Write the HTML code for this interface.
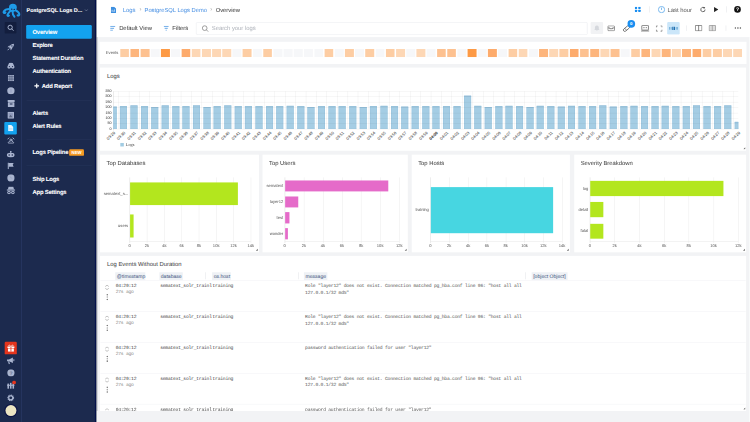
<!DOCTYPE html>
<html><head><meta charset="utf-8"><style>
html,body{margin:0;padding:0;width:750px;height:422px;overflow:hidden;background:#f2f3f5}
#root{opacity:0.999;-webkit-text-stroke:0.12px;text-rendering:geometricPrecision;position:absolute;left:0;top:0;width:1920px;height:1082px;transform:scale(0.390625);transform-origin:0 0;font-family:"Liberation Sans",sans-serif;overflow:hidden;color:#333}
.a{position:absolute}
.nav{position:absolute;left:83px;color:#fff;font-weight:bold;font-size:15px;letter-spacing:-0.45px;line-height:20px;white-space:nowrap;-webkit-text-stroke:0.2px #fff}
.panel{position:absolute;background:#fff;box-sizing:border-box}
.ptitle{position:absolute;font-size:15px;color:#4a4a4a;line-height:18px;white-space:nowrap}
.lbl{position:absolute;font-size:10px;color:#666;white-space:nowrap;line-height:12px;-webkit-text-stroke:0.1px}
.ser{font-family:"Liberation Serif",serif}
.mono{font-family:"Liberation Mono",monospace;letter-spacing:-0.6px;-webkit-text-stroke:0}
.chip{position:absolute;background:#eef1f5;color:#334;font-size:13px;line-height:20px;height:20px;padding:0 4px;white-space:nowrap}
.sep{position:absolute;width:1px;background:#d8dbe0}
</style></head>
<body><div id="root">
<div class="a" style="left:0;top:0;width:246px;height:1082px;background:#1c2a4e"></div>
<div class="a" style="left:53.5px;top:0;width:1.5px;height:1082px;background:#34467a"></div>
<div class="a" style="left:243px;top:0;width:3px;height:1082px;background:#03104a"></div>
<div class="a" style="left:246px;top:0;width:2.5px;height:1082px;background:#7d8291"></div>
<div class="a" style="left:248px;top:0;width:1672px;height:95px;background:#fff"></div>
<svg class="a" style="left:0px;top:0px" width="56" height="50" viewBox="0 0 56 50"><g fill="none" stroke="#1e9be8" stroke-width="5" stroke-linecap="round" stroke-linejoin="round"><path d="M24 23 C18 23 12 25 9.5 29.5 C8 33 11 35 14 32"/><path d="M27 27 C24 31 21 34 19 38 C18.5 41 21 42 23 40"/><path d="M32 29 C32 34 33 39 37 43"/><path d="M39 26 C45 29 49 32 49.5 36 C50 39 47 41 45 39"/></g><ellipse cx="33" cy="19" rx="10" ry="9.5" fill="#1e9be8"/><ellipse cx="32" cy="25" rx="8.5" ry="5.5" fill="#1e9be8"/><ellipse cx="30" cy="23.5" rx="2" ry="1.5" fill="#1c2a4e"/><ellipse cx="36.5" cy="24" rx="2" ry="1.5" fill="#1c2a4e"/></svg>
<div class="a" style="left:12px;top:56px;width:30px;height:30px;background:#131e3e;border-radius:2px"></div>
<svg class="a" style="left:17px;top:61px" width="20" height="20" viewBox="0 0 20 20"><circle cx="9" cy="9" r="5.5" fill="none" stroke="#a9b4cf" stroke-width="2.5"/><path d="M13 13 L17 17" stroke="#a9b4cf" stroke-width="2.5" stroke-linecap="round"/></svg>
<svg class="a" style="left:18px;top:111px" width="20" height="19" viewBox="0 0 20 19"><path d="M18 1 C12 1 7 5 5 10 L9 14 C14 12 18 7 18 1Z" fill="#a9b4cf"/><path d="M5 10 L1 10 L5 6 L9 6Z M9 14 L9 18 L13 14 L13 10Z" fill="#a9b4cf"/><path d="M5 14 L2 17" stroke="#a9b4cf" stroke-width="2.5" stroke-linecap="round"/><circle cx="12.5" cy="6.5" r="1.8" fill="#1c2a4e"/></svg>
<svg class="a" style="left:18px;top:160px" width="20" height="16" viewBox="0 0 20 16"><path d="M1 10 L5 2 C6 0 14 0 15 2 L19 10 C20 14 17 16 14 16 C11 16 11 13 10 13 C9 13 9 16 6 16 C3 16 0 14 1 10Z" fill="#a9b4cf"/><circle cx="6" cy="10.5" r="1.6" fill="#1c2a4e"/><circle cx="14" cy="10.5" r="1.6" fill="#1c2a4e"/></svg>
<svg class="a" style="left:20px;top:192px" width="16" height="16" viewBox="0 0 16 16"><rect x="0" y="0" width="16" height="16" rx="1" fill="#a9b4cf"/><path d="M0 4H16M0 8H16M0 12H16M5.3 0V16M10.6 0V16" stroke="#1c2a4e" stroke-width="1"/></svg>
<svg class="a" style="left:18px;top:223px" width="20" height="19" viewBox="0 0 20 19"><ellipse cx="10" cy="9.5" rx="9.5" ry="9" fill="#a9b4cf"/><path d="M10 5 V14" stroke="#8f9abb" stroke-width="2"/></svg>
<svg class="a" style="left:19px;top:256px" width="19" height="18" viewBox="0 0 19 18"><rect x="0" y="0" width="19" height="5" rx="1" fill="#a9b4cf"/><rect x="1" y="6" width="17" height="12" rx="1" fill="#a9b4cf"/><rect x="6" y="9" width="7" height="2.5" fill="#1c2a4e"/></svg>
<svg class="a" style="left:19px;top:286px" width="17" height="18" viewBox="0 0 17 18"><rect x="0" y="0" width="17" height="18" rx="2" fill="#a9b4cf"/><rect x="3" y="3" width="11" height="12" fill="#8f9abb"/><path d="M4 14 L8 8 L13 14Z" fill="#5a6680"/></svg>
<div class="a" style="left:11px;top:312px;width:32px;height:32px;background:#13a2ef;border-radius:3px"></div>
<svg class="a" style="left:20px;top:320px" width="15" height="16" viewBox="0 0 15 16"><path d="M1 0 H9 L14 5 V16 H1Z" fill="#eaf6fe"/><path d="M3 9H12M3 12H12" stroke="#9bd3f6" stroke-width="1.2"/></svg>
<svg class="a" style="left:18px;top:351px" width="20" height="17" viewBox="0 0 20 17"><g fill="none" stroke="#a9b4cf" stroke-width="2.4" stroke-linecap="round"><path d="M2 5 L5 2 M18 5 L15 2 M7 10 L3 14 M13 10 L17 14 M4 15.5 H16"/><circle cx="10" cy="7.5" r="2.6"/></g></svg>
<svg class="a" style="left:17px;top:386px" width="21" height="17" viewBox="0 0 21 17"><ellipse cx="10.5" cy="11" rx="10" ry="6" fill="#a9b4cf"/><path d="M10.5 1 V6" stroke="#a9b4cf" stroke-width="2.5"/><circle cx="10.5" cy="2" r="2" fill="#a9b4cf"/><circle cx="6.5" cy="11" r="2" fill="#1c2a4e"/><circle cx="14.5" cy="11" r="2" fill="#1c2a4e"/></svg>
<svg class="a" style="left:19px;top:416px" width="17" height="17" viewBox="0 0 17 17"><path d="M2 0 V17" stroke="#a9b4cf" stroke-width="3"/><path d="M3 1 H16 L13.5 6 L16 11 H3Z" fill="#a9b4cf"/></svg>
<svg class="a" style="left:18px;top:446px" width="20" height="19" viewBox="0 0 20 19"><circle cx="10" cy="9.5" r="9.3" fill="#a9b4cf"/><path d="M8 6 L12 11" stroke="#8f9abb" stroke-width="2"/></svg>
<svg class="a" style="left:17px;top:477px" width="22" height="21" viewBox="0 0 22 21"><path d="M5 1 H17 L19 8 H3Z" fill="#a9b4cf"/><rect x="0" y="8" width="22" height="3" fill="#a9b4cf"/><circle cx="6" cy="16" r="4.5" fill="#a9b4cf"/><circle cx="16" cy="16" r="4.5" fill="#a9b4cf"/><circle cx="6" cy="16" r="2" fill="#1c2a4e"/><circle cx="16" cy="16" r="2" fill="#1c2a4e"/></svg>
<div class="a" style="left:12px;top:875px;width:31px;height:32px;background:#e4351d;border-radius:3px"></div>
<svg class="a" style="left:18px;top:881px" width="20" height="20" viewBox="0 0 20 20"><rect x="1" y="6" width="18" height="4" fill="#fff"/><rect x="2.5" y="11" width="15" height="8" fill="#fff"/><path d="M10 6V19" stroke="#e4351d" stroke-width="2.2"/><path d="M10 6 C7 1 3 2 5 5 M10 6 C13 1 17 2 15 5" fill="none" stroke="#fff" stroke-width="2"/></svg>
<svg class="a" style="left:17px;top:914px" width="21" height="19" viewBox="0 0 21 19"><path d="M1 6 H6 L16 1 V15 L6 11 H1Z" fill="#a9b4cf"/><path d="M5 11 L7 18" stroke="#a9b4cf" stroke-width="3"/><path d="M18.5 5.5 V10.5" stroke="#a9b4cf" stroke-width="2.5"/></svg>
<svg class="a" style="left:18px;top:945px" width="20" height="19" viewBox="0 0 20 19"><circle cx="10" cy="9.5" r="9.3" fill="#a9b4cf"/><text x="10" y="14" font-size="13" font-weight="bold" text-anchor="middle" fill="#6b7794" font-family="Liberation Sans">?</text></svg>
<svg class="a" style="left:18px;top:974px" width="24" height="22" viewBox="0 0 24 22"><g fill="#a9b4cf"><rect x="1" y="8" width="4" height="13"/><rect x="7.5" y="6" width="4" height="15"/><rect x="14" y="8" width="4" height="13"/><rect x="0" y="11" width="19" height="2.5"/></g><circle cx="18" cy="5" r="4.8" fill="#e4351d"/></svg>
<svg class="a" style="left:18px;top:1009px" width="19" height="19" viewBox="0 0 19 19"><circle cx="9.5" cy="9.5" r="7" fill="none" stroke="#a9b4cf" stroke-width="3.5" stroke-dasharray="2.5 1.6"/><circle cx="9.5" cy="9.5" r="5.2" fill="none" stroke="#a9b4cf" stroke-width="3"/></svg>
<div class="a" style="left:11px;top:1034px;width:34px;height:34px;border-radius:50%;background:#0b1445"></div>
<div class="a" style="left:14px;top:1037px;width:28px;height:28px;border-radius:50%;background:#ebe5c2"></div>
<div class="nav" style="left:68px;top:16px;font-size:14.2px;letter-spacing:-0.15px;line-height:20px">PostgreSQL Logs D...</div>
<svg class="a" style="left:216px;top:22px" width="10" height="8" viewBox="0 0 10 8"><path d="M1 2 L5 6 L9 2" fill="none" stroke="#8e99b3" stroke-width="1.5"/></svg>
<div class="a" style="left:67px;top:64px;width:168px;height:35px;background:#13a2ef;border-radius:3px"></div>
<div class="nav" style="top:71.5px">Overview</div>
<div class="nav" style="top:105.5px">Explore</div>
<div class="nav" style="top:139px">Statement Duration</div>
<div class="nav" style="top:173px">Authentication</div>
<svg class="a" style="left:87px;top:213px" width="14" height="14" viewBox="0 0 14 14"><path d="M7 1V13M1 7H13" stroke="#fff" stroke-width="3"/></svg>
<div class="nav" style="left:107px;top:210px">Add Report</div>
<div class="a" style="left:68px;top:257px;width:167px;height:1px;background:#2a3a60"></div>
<div class="a" style="left:68px;top:357px;width:167px;height:1px;background:#2a3a60"></div>
<div class="a" style="left:68px;top:424px;width:167px;height:1px;background:#2a3a60"></div>
<div class="nav" style="top:279.5px">Alerts</div>
<div class="nav" style="top:313px">Alert Rules</div>
<div class="nav" style="top:379.5px">Logs Pipeline</div>
<div class="nav" style="top:449px">Ship Logs</div>
<div class="nav" style="top:483px">App Settings</div>
<div class="a" style="left:177px;top:382px;width:38px;height:17px;background:#f59a23;border-radius:3px;color:#fff;font-weight:bold;font-size:11px;line-height:17px;text-align:center">NEW</div>
<svg class="a" style="left:283px;top:17px" width="15" height="16" viewBox="0 0 15 16"><path d="M1 0 H9 L14 5 V16 H1Z" fill="#3d8fe0"/><path d="M4 8 V13 M7 10 V13 M10 7 V13" stroke="#fff" stroke-width="1.5"/></svg>
<div class="a" style="left:314px;top:16.5px;font-size:15px;line-height:20px;color:#5597e4;white-space:nowrap">Logs</div>
<div class="a" style="left:357px;top:14.5px;font-size:15px;line-height:20px;color:#aaa">&#8250;</div>
<div class="a" style="left:370px;top:16.5px;font-size:14.8px;line-height:20px;color:#5597e4;white-space:nowrap">PostgreSQL Logs Demo</div>
<div class="a" style="left:538px;top:14.5px;font-size:15px;line-height:20px;color:#aaa">&#8250;</div>
<div class="a" style="left:552px;top:16.5px;font-size:15px;line-height:20px;color:#444;white-space:nowrap">Overview</div>
<svg class="a" style="left:282px;top:66px" width="14" height="13" viewBox="0 0 14 13"><path d="M0 1.5H13M0 6.5H10M0 11.5H7" stroke="#3d8fe0" stroke-width="2"/></svg>
<div class="a" style="left:305px;top:62px;font-size:15px;line-height:20px;color:#444;white-space:nowrap">Default View</div>
<svg class="a" style="left:419px;top:66px" width="13" height="13" viewBox="0 0 13 13"><path d="M0 1.5H13M2.5 6.5H10.5M5 11.5H8" stroke="#3d8fe0" stroke-width="2"/></svg>
<div class="a" style="left:441px;top:62px;font-size:15px;line-height:20px;color:#444;white-space:nowrap">Filters</div>
<div class="a" style="left:502px;top:57px;width:1002px;height:32px;border:1px solid #e0e3e8;border-radius:3px;box-sizing:border-box;background:#fff"></div>
<svg class="a" style="left:516px;top:64px" width="19" height="19" viewBox="0 0 19 19"><circle cx="8" cy="8" r="6" fill="none" stroke="#777" stroke-width="1.8"/><path d="M12.5 12.5 L17 17" stroke="#777" stroke-width="1.8"/></svg>
<div class="a" style="left:542px;top:64px;font-size:15px;line-height:20px;color:#b4b8bf;white-space:nowrap">Search your logs</div>
<div class="a" style="left:1512px;top:56px;width:32px;height:31px;background:#f1f2f4;border-radius:3px"></div>
<svg class="a" style="left:1519px;top:63px" width="18" height="18" viewBox="0 0 18 18"><path d="M9 2 C5 2 4 5 4 8 V12 L2 14 H16 L14 12 V8 C14 5 13 2 9 2Z M7 15 C7 17 11 17 11 15" fill="#d5d8dd"/></svg>
<svg class="a" style="left:1555px;top:65px" width="19" height="15" viewBox="0 0 19 15"><rect x="1" y="1" width="17" height="13" rx="2" fill="none" stroke="#555" stroke-width="1.8"/><path d="M1 6.5 H6 V8.5 H13 V6.5 H18" fill="none" stroke="#555" stroke-width="1.8"/></svg>
<svg class="a" style="left:1593px;top:63px" width="22" height="20" viewBox="0 0 22 20"><g transform="rotate(-40 11 10)"><rect x="1.5" y="6.5" width="19" height="7" rx="3.5" fill="#fff" stroke="#555" stroke-width="1.9"/><path d="M8 6.5 V13.5" stroke="#555" stroke-width="1.6"/></g></svg>
<div class="a" style="left:1606px;top:51px;width:20px;height:20px;border-radius:50%;background:#1a8ef0;color:#fff;font-size:11px;font-weight:bold;line-height:20px;text-align:center">0</div>
<svg class="a" style="left:1640px;top:64px" width="23" height="17" viewBox="0 0 23 17"><rect x="3" y="1" width="17" height="12" rx="1.5" fill="none" stroke="#555" stroke-width="1.8"/><path d="M1 15.5H22" stroke="#555" stroke-width="2"/><rect x="7" y="6" width="3" height="2" fill="#555"/><rect x="13" y="6" width="3" height="2" fill="#555"/></svg>
<svg class="a" style="left:1679px;top:65px" width="17" height="16" viewBox="0 0 17 16"><path d="M1 5 V1 H5 M12 1 H16 V5 M16 11 V15 H12 M5 15 H1 V11" fill="none" stroke="#555" stroke-width="1.8"/></svg>
<div class="a" style="left:1708px;top:56px;width:32px;height:32px;background:#cbe6f9;border-radius:3px"></div>
<svg class="a" style="left:1713px;top:68px" width="23" height="9" viewBox="0 0 23 9"><g fill="#5a9fd0"><rect x="0" y="1" width="2" height="7"/><rect x="4" y="1" width="2" height="7"/><rect x="8" y="0" width="3" height="9" fill="#1f6fb0"/><rect x="12" y="0" width="3" height="9" fill="#1f6fb0"/><rect x="17" y="1" width="2" height="7"/><rect x="21" y="1" width="2" height="7"/></g></svg>
<div class="sep" style="left:1757px;top:65px;height:14px"></div>
<svg class="a" style="left:1779px;top:64px" width="19" height="16" viewBox="0 0 19 16"><rect x="1" y="1" width="17" height="14" rx="1.5" fill="none" stroke="#555" stroke-width="1.8"/><path d="M9.5 1 V15" stroke="#555" stroke-width="1.8"/></svg>
<svg class="a" style="left:1814px;top:64px" width="19" height="16" viewBox="0 0 19 16"><rect x="1" y="1" width="17" height="14" rx="1.5" fill="#ddd" stroke="#888" stroke-width="1.8"/><path d="M9.5 1 V15" stroke="#888" stroke-width="1.5"/></svg>
<div class="sep" style="left:1858px;top:65px;height:14px"></div>
<svg class="a" style="left:1880px;top:69px" width="18" height="5" viewBox="0 0 18 5"><circle cx="2.5" cy="2.5" r="2" fill="#555"/><circle cx="9" cy="2.5" r="2" fill="#555"/><circle cx="15.5" cy="2.5" r="2" fill="#555"/></svg>
<svg class="a" style="left:1625px;top:17px" width="16" height="15" viewBox="0 0 16 15"><g fill="#1a8ef0"><rect x="0" y="0" width="6" height="6" rx="1"/><rect x="9" y="0" width="6" height="6" rx="1"/><rect x="0" y="8" width="6" height="6" rx="1"/><rect x="9" y="8" width="6" height="6" rx="1"/></g></svg>
<div class="sep" style="left:1662px;top:16px;height:16px"></div>
<svg class="a" style="left:1684px;top:15px" width="19" height="19" viewBox="0 0 19 19"><circle cx="9.5" cy="9.5" r="8" fill="none" stroke="#4a9fe8" stroke-width="1.8"/><path d="M9.5 4.5 V10.5" stroke="#4a9fe8" stroke-width="1.8"/></svg>
<div class="a" style="left:1709px;top:15.5px;font-size:15px;line-height:20px;color:#666;white-space:nowrap">Last hour</div>
<svg class="a" style="left:1791px;top:16px" width="17" height="17" viewBox="0 0 17 17"><path d="M14 8.5 A5.5 5.5 0 1 1 11.5 3.8" fill="none" stroke="#444" stroke-width="2"/><path d="M9.5 1 L14.5 3 L11 7Z" fill="#444"/></svg>
<svg class="a" style="left:1827px;top:18px" width="12" height="13" viewBox="0 0 12 13"><path d="M1 0 L12 6.5 L1 13Z" fill="#222"/></svg>
<div class="sep" style="left:1859px;top:16px;height:16px"></div>
<svg class="a" style="left:1879px;top:15px" width="18" height="18" viewBox="0 0 18 18"><circle cx="9" cy="9" r="8.5" fill="#111"/><text x="9" y="13.5" font-size="13" font-weight="bold" text-anchor="middle" fill="#fff" font-family="Liberation Sans">?</text></svg>
<div class="panel" style="left:255px;top:107px;width:1656px;height:57px"></div>
<div class="lbl" style="left:271px;top:130px;font-size:10.5px;color:#666">Events</div>
<div class="a" style="left:307.5px;top:125px;width:22.8px;height:21px;background:#fdcda3"></div>
<div class="a" style="left:333.7px;top:125px;width:22.8px;height:21px;background:#fdb57c"></div>
<div class="a" style="left:359.8px;top:125px;width:22.8px;height:21px;background:#fdc190"></div>
<div class="a" style="left:386.0px;top:125px;width:22.8px;height:21px;background:#f6f7f9"></div>
<div class="a" style="left:412.1px;top:125px;width:22.8px;height:21px;background:#fd9a45"></div>
<div class="a" style="left:438.3px;top:125px;width:22.8px;height:21px;background:#f6f7f9"></div>
<div class="a" style="left:464.5px;top:125px;width:22.8px;height:21px;background:#fdab6c"></div>
<div class="a" style="left:490.6px;top:125px;width:22.8px;height:21px;background:#fdd7b5"></div>
<div class="a" style="left:516.8px;top:125px;width:22.8px;height:21px;background:#fdd7b5"></div>
<div class="a" style="left:542.9px;top:125px;width:22.8px;height:21px;background:#fdd7b5"></div>
<div class="a" style="left:569.1px;top:125px;width:22.8px;height:21px;background:#fdd7b5"></div>
<div class="a" style="left:595.3px;top:125px;width:22.8px;height:21px;background:#f6f7f9"></div>
<div class="a" style="left:621.4px;top:125px;width:22.8px;height:21px;background:#fdcda3"></div>
<div class="a" style="left:647.6px;top:125px;width:22.8px;height:21px;background:#f6f7f9"></div>
<div class="a" style="left:673.7px;top:125px;width:22.8px;height:21px;background:#fdcda3"></div>
<div class="a" style="left:699.9px;top:125px;width:22.8px;height:21px;background:#f6f7f9"></div>
<div class="a" style="left:726.1px;top:125px;width:22.8px;height:21px;background:#f6f7f9"></div>
<div class="a" style="left:752.2px;top:125px;width:22.8px;height:21px;background:#f6f7f9"></div>
<div class="a" style="left:778.4px;top:125px;width:22.8px;height:21px;background:#f6f7f9"></div>
<div class="a" style="left:804.5px;top:125px;width:22.8px;height:21px;background:#f6f7f9"></div>
<div class="a" style="left:830.7px;top:125px;width:22.8px;height:21px;background:#fdcda3"></div>
<div class="a" style="left:856.9px;top:125px;width:22.8px;height:21px;background:#f6f7f9"></div>
<div class="a" style="left:883.0px;top:125px;width:22.8px;height:21px;background:#fdcda3"></div>
<div class="a" style="left:909.2px;top:125px;width:22.8px;height:21px;background:#f6f7f9"></div>
<div class="a" style="left:935.3px;top:125px;width:22.8px;height:21px;background:#fdcda3"></div>
<div class="a" style="left:961.5px;top:125px;width:22.8px;height:21px;background:#f6f7f9"></div>
<div class="a" style="left:987.7px;top:125px;width:22.8px;height:21px;background:#fdcda3"></div>
<div class="a" style="left:1013.8px;top:125px;width:22.8px;height:21px;background:#fdd7b5"></div>
<div class="a" style="left:1040.0px;top:125px;width:22.8px;height:21px;background:#f6f7f9"></div>
<div class="a" style="left:1066.1px;top:125px;width:22.8px;height:21px;background:#fdd7b5"></div>
<div class="a" style="left:1092.3px;top:125px;width:22.8px;height:21px;background:#f6f7f9"></div>
<div class="a" style="left:1118.5px;top:125px;width:22.8px;height:21px;background:#fdc190"></div>
<div class="a" style="left:1144.6px;top:125px;width:22.8px;height:21px;background:#fdc190"></div>
<div class="a" style="left:1170.8px;top:125px;width:22.8px;height:21px;background:#f6f7f9"></div>
<div class="a" style="left:1196.9px;top:125px;width:22.8px;height:21px;background:#fd9a45"></div>
<div class="a" style="left:1223.1px;top:125px;width:22.8px;height:21px;background:#f6f7f9"></div>
<div class="a" style="left:1249.3px;top:125px;width:22.8px;height:21px;background:#fdab6c"></div>
<div class="a" style="left:1275.4px;top:125px;width:22.8px;height:21px;background:#f6f7f9"></div>
<div class="a" style="left:1301.6px;top:125px;width:22.8px;height:21px;background:#fdcda3"></div>
<div class="a" style="left:1327.7px;top:125px;width:22.8px;height:21px;background:#fdd7b5"></div>
<div class="a" style="left:1353.9px;top:125px;width:22.8px;height:21px;background:#f6f7f9"></div>
<div class="a" style="left:1380.1px;top:125px;width:22.8px;height:21px;background:#fdb57c"></div>
<div class="a" style="left:1406.2px;top:125px;width:22.8px;height:21px;background:#fdd7b5"></div>
<div class="a" style="left:1432.4px;top:125px;width:22.8px;height:21px;background:#fdcda3"></div>
<div class="a" style="left:1458.5px;top:125px;width:22.8px;height:21px;background:#fdab6c"></div>
<div class="a" style="left:1484.7px;top:125px;width:22.8px;height:21px;background:#fdc190"></div>
<div class="a" style="left:1510.9px;top:125px;width:22.8px;height:21px;background:#fdb57c"></div>
<div class="a" style="left:1537.0px;top:125px;width:22.8px;height:21px;background:#fdd7b5"></div>
<div class="a" style="left:1563.2px;top:125px;width:22.8px;height:21px;background:#fdc190"></div>
<div class="a" style="left:1589.3px;top:125px;width:22.8px;height:21px;background:#f6f7f9"></div>
<div class="a" style="left:1615.5px;top:125px;width:22.8px;height:21px;background:#fdcda3"></div>
<div class="a" style="left:1641.7px;top:125px;width:22.8px;height:21px;background:#fdb57c"></div>
<div class="a" style="left:1667.8px;top:125px;width:22.8px;height:21px;background:#fdd7b5"></div>
<div class="a" style="left:1694.0px;top:125px;width:22.8px;height:21px;background:#fdb57c"></div>
<div class="a" style="left:1720.1px;top:125px;width:22.8px;height:21px;background:#fdd7b5"></div>
<div class="a" style="left:1746.3px;top:125px;width:22.8px;height:21px;background:#fdb57c"></div>
<div class="a" style="left:1772.5px;top:125px;width:22.8px;height:21px;background:#fdab6c"></div>
<div class="a" style="left:1798.6px;top:125px;width:22.8px;height:21px;background:#fdcda3"></div>
<div class="a" style="left:1824.8px;top:125px;width:22.8px;height:21px;background:#fdcda3"></div>
<div class="a" style="left:1850.9px;top:125px;width:22.8px;height:21px;background:#fdd7b5"></div>
<div class="a" style="left:1877.1px;top:125px;width:22.8px;height:21px;background:#fdd7b5"></div>
<div class="panel" style="left:256px;top:173px;width:1654px;height:213px"></div>
<div class="ptitle" style="left:274px;top:186.5px">Logs</div>
<div class="a" style="left:289.5px;top:233.5px;width:1px;height:100.5px;background:#ccc"></div>
<div class="a" style="left:289.5px;top:272.7px;width:9.0px;height:57.3px;background:#a5cde4;border:1px solid #93c0db;border-top:2px solid #8dbad6;box-sizing:border-box"></div>
<div class="lbl" style="left:257.5px;top:335.0px;width:32px;text-align:right;font-size:10.3px;color:#444;transform-origin:100% 0;transform:rotate(-45deg)">03:29</div>
<div class="a" style="left:307.2px;top:272.4px;width:18.0px;height:57.6px;background:#a5cde4;border:1px solid #93c0db;border-top:2px solid #8dbad6;box-sizing:border-box"></div>
<div class="lbl" style="left:284.2px;top:335.0px;width:32px;text-align:right;font-size:10.3px;color:#444;transform-origin:100% 0;transform:rotate(-45deg)">03:30</div>
<div class="a" style="left:333.9px;top:270.4px;width:18.0px;height:59.6px;background:#a5cde4;border:1px solid #93c0db;border-top:2px solid #8dbad6;box-sizing:border-box"></div>
<div class="lbl" style="left:310.9px;top:335.0px;width:32px;text-align:right;font-size:10.3px;color:#444;transform-origin:100% 0;transform:rotate(-45deg)">03:31</div>
<div class="a" style="left:360.5px;top:272.1px;width:18.0px;height:57.9px;background:#a5cde4;border:1px solid #93c0db;border-top:2px solid #8dbad6;box-sizing:border-box"></div>
<div class="lbl" style="left:337.5px;top:335.0px;width:32px;text-align:right;font-size:10.3px;color:#444;transform-origin:100% 0;transform:rotate(-45deg)">03:32</div>
<div class="a" style="left:387.2px;top:273.5px;width:18.0px;height:56.5px;background:#a5cde4;border:1px solid #93c0db;border-top:2px solid #8dbad6;box-sizing:border-box"></div>
<div class="lbl" style="left:364.2px;top:335.0px;width:32px;text-align:right;font-size:10.3px;color:#444;transform-origin:100% 0;transform:rotate(-45deg)">03:33</div>
<div class="a" style="left:413.9px;top:270.4px;width:18.0px;height:59.6px;background:#a5cde4;border:1px solid #93c0db;border-top:2px solid #8dbad6;box-sizing:border-box"></div>
<div class="lbl" style="left:390.9px;top:335.0px;width:32px;text-align:right;font-size:10.3px;color:#444;transform-origin:100% 0;transform:rotate(-45deg)">03:34</div>
<div class="a" style="left:440.6px;top:272.1px;width:18.0px;height:57.9px;background:#a5cde4;border:1px solid #93c0db;border-top:2px solid #8dbad6;box-sizing:border-box"></div>
<div class="lbl" style="left:417.6px;top:335.0px;width:32px;text-align:right;font-size:10.3px;color:#444;transform-origin:100% 0;transform:rotate(-45deg)">03:35</div>
<div class="a" style="left:467.2px;top:272.1px;width:18.0px;height:57.9px;background:#a5cde4;border:1px solid #93c0db;border-top:2px solid #8dbad6;box-sizing:border-box"></div>
<div class="lbl" style="left:444.2px;top:335.0px;width:32px;text-align:right;font-size:10.3px;color:#444;transform-origin:100% 0;transform:rotate(-45deg)">03:36</div>
<div class="a" style="left:493.9px;top:270.4px;width:18.0px;height:59.6px;background:#a5cde4;border:1px solid #93c0db;border-top:2px solid #8dbad6;box-sizing:border-box"></div>
<div class="lbl" style="left:470.9px;top:335.0px;width:32px;text-align:right;font-size:10.3px;color:#444;transform-origin:100% 0;transform:rotate(-45deg)">03:37</div>
<div class="a" style="left:520.6px;top:274.0px;width:18.0px;height:56.0px;background:#a5cde4;border:1px solid #93c0db;border-top:2px solid #8dbad6;box-sizing:border-box"></div>
<div class="lbl" style="left:497.6px;top:335.0px;width:32px;text-align:right;font-size:10.3px;color:#444;transform-origin:100% 0;transform:rotate(-45deg)">03:38</div>
<div class="a" style="left:547.2px;top:272.4px;width:18.0px;height:57.6px;background:#a5cde4;border:1px solid #93c0db;border-top:2px solid #8dbad6;box-sizing:border-box"></div>
<div class="lbl" style="left:524.2px;top:335.0px;width:32px;text-align:right;font-size:10.3px;color:#444;transform-origin:100% 0;transform:rotate(-45deg)">03:39</div>
<div class="a" style="left:573.9px;top:270.4px;width:18.0px;height:59.6px;background:#a5cde4;border:1px solid #93c0db;border-top:2px solid #8dbad6;box-sizing:border-box"></div>
<div class="lbl" style="left:550.9px;top:335.0px;width:32px;text-align:right;font-size:10.3px;color:#444;transform-origin:100% 0;transform:rotate(-45deg)">03:40</div>
<div class="a" style="left:600.6px;top:272.1px;width:18.0px;height:57.9px;background:#a5cde4;border:1px solid #93c0db;border-top:2px solid #8dbad6;box-sizing:border-box"></div>
<div class="lbl" style="left:577.6px;top:335.0px;width:32px;text-align:right;font-size:10.3px;color:#444;transform-origin:100% 0;transform:rotate(-45deg)">03:41</div>
<div class="a" style="left:627.3px;top:272.4px;width:18.0px;height:57.6px;background:#a5cde4;border:1px solid #93c0db;border-top:2px solid #8dbad6;box-sizing:border-box"></div>
<div class="lbl" style="left:604.3px;top:335.0px;width:32px;text-align:right;font-size:10.3px;color:#444;transform-origin:100% 0;transform:rotate(-45deg)">03:42</div>
<div class="a" style="left:654.0px;top:272.1px;width:18.0px;height:57.9px;background:#a5cde4;border:1px solid #93c0db;border-top:2px solid #8dbad6;box-sizing:border-box"></div>
<div class="lbl" style="left:631.0px;top:335.0px;width:32px;text-align:right;font-size:10.3px;color:#444;transform-origin:100% 0;transform:rotate(-45deg)">03:43</div>
<div class="a" style="left:680.6px;top:272.4px;width:18.0px;height:57.6px;background:#a5cde4;border:1px solid #93c0db;border-top:2px solid #8dbad6;box-sizing:border-box"></div>
<div class="lbl" style="left:657.6px;top:335.0px;width:32px;text-align:right;font-size:10.3px;color:#444;transform-origin:100% 0;transform:rotate(-45deg)">03:44</div>
<div class="a" style="left:707.3px;top:272.4px;width:18.0px;height:57.6px;background:#a5cde4;border:1px solid #93c0db;border-top:2px solid #8dbad6;box-sizing:border-box"></div>
<div class="lbl" style="left:684.3px;top:335.0px;width:32px;text-align:right;font-size:10.3px;color:#444;transform-origin:100% 0;transform:rotate(-45deg)">03:45</div>
<div class="a" style="left:734.0px;top:271.0px;width:18.0px;height:59.0px;background:#a5cde4;border:1px solid #93c0db;border-top:2px solid #8dbad6;box-sizing:border-box"></div>
<div class="lbl" style="left:711.0px;top:335.0px;width:32px;text-align:right;font-size:10.3px;color:#444;transform-origin:100% 0;transform:rotate(-45deg)">03:46</div>
<div class="a" style="left:760.7px;top:272.4px;width:18.0px;height:57.6px;background:#a5cde4;border:1px solid #93c0db;border-top:2px solid #8dbad6;box-sizing:border-box"></div>
<div class="lbl" style="left:737.7px;top:335.0px;width:32px;text-align:right;font-size:10.3px;color:#444;transform-origin:100% 0;transform:rotate(-45deg)">03:47</div>
<div class="a" style="left:787.3px;top:273.5px;width:18.0px;height:56.5px;background:#a5cde4;border:1px solid #93c0db;border-top:2px solid #8dbad6;box-sizing:border-box"></div>
<div class="lbl" style="left:764.3px;top:335.0px;width:32px;text-align:right;font-size:10.3px;color:#444;transform-origin:100% 0;transform:rotate(-45deg)">03:48</div>
<div class="a" style="left:814.0px;top:272.4px;width:18.0px;height:57.6px;background:#a5cde4;border:1px solid #93c0db;border-top:2px solid #8dbad6;box-sizing:border-box"></div>
<div class="lbl" style="left:791.0px;top:335.0px;width:32px;text-align:right;font-size:10.3px;color:#444;transform-origin:100% 0;transform:rotate(-45deg)">03:49</div>
<div class="a" style="left:840.7px;top:272.4px;width:18.0px;height:57.6px;background:#a5cde4;border:1px solid #93c0db;border-top:2px solid #8dbad6;box-sizing:border-box"></div>
<div class="lbl" style="left:817.7px;top:335.0px;width:32px;text-align:right;font-size:10.3px;color:#444;transform-origin:100% 0;transform:rotate(-45deg)">03:50</div>
<div class="a" style="left:867.4px;top:272.4px;width:18.0px;height:57.6px;background:#a5cde4;border:1px solid #93c0db;border-top:2px solid #8dbad6;box-sizing:border-box"></div>
<div class="lbl" style="left:844.4px;top:335.0px;width:32px;text-align:right;font-size:10.3px;color:#444;transform-origin:100% 0;transform:rotate(-45deg)">03:51</div>
<div class="a" style="left:894.0px;top:272.4px;width:18.0px;height:57.6px;background:#a5cde4;border:1px solid #93c0db;border-top:2px solid #8dbad6;box-sizing:border-box"></div>
<div class="lbl" style="left:871.0px;top:335.0px;width:32px;text-align:right;font-size:10.3px;color:#444;transform-origin:100% 0;transform:rotate(-45deg)">03:52</div>
<div class="a" style="left:920.7px;top:273.5px;width:18.0px;height:56.5px;background:#a5cde4;border:1px solid #93c0db;border-top:2px solid #8dbad6;box-sizing:border-box"></div>
<div class="lbl" style="left:897.7px;top:335.0px;width:32px;text-align:right;font-size:10.3px;color:#444;transform-origin:100% 0;transform:rotate(-45deg)">03:53</div>
<div class="a" style="left:947.4px;top:272.4px;width:18.0px;height:57.6px;background:#a5cde4;border:1px solid #93c0db;border-top:2px solid #8dbad6;box-sizing:border-box"></div>
<div class="lbl" style="left:924.4px;top:335.0px;width:32px;text-align:right;font-size:10.3px;color:#444;transform-origin:100% 0;transform:rotate(-45deg)">03:54</div>
<div class="a" style="left:974.1px;top:271.0px;width:18.0px;height:59.0px;background:#a5cde4;border:1px solid #93c0db;border-top:2px solid #8dbad6;box-sizing:border-box"></div>
<div class="lbl" style="left:951.1px;top:335.0px;width:32px;text-align:right;font-size:10.3px;color:#444;transform-origin:100% 0;transform:rotate(-45deg)">03:55</div>
<div class="a" style="left:1000.7px;top:272.4px;width:18.0px;height:57.6px;background:#a5cde4;border:1px solid #93c0db;border-top:2px solid #8dbad6;box-sizing:border-box"></div>
<div class="lbl" style="left:977.7px;top:335.0px;width:32px;text-align:right;font-size:10.3px;color:#444;transform-origin:100% 0;transform:rotate(-45deg)">03:56</div>
<div class="a" style="left:1027.4px;top:272.9px;width:18.0px;height:57.1px;background:#a5cde4;border:1px solid #93c0db;border-top:2px solid #8dbad6;box-sizing:border-box"></div>
<div class="lbl" style="left:1004.4px;top:335.0px;width:32px;text-align:right;font-size:10.3px;color:#444;transform-origin:100% 0;transform:rotate(-45deg)">03:57</div>
<div class="a" style="left:1054.1px;top:272.4px;width:18.0px;height:57.6px;background:#a5cde4;border:1px solid #93c0db;border-top:2px solid #8dbad6;box-sizing:border-box"></div>
<div class="lbl" style="left:1031.1px;top:335.0px;width:32px;text-align:right;font-size:10.3px;color:#444;transform-origin:100% 0;transform:rotate(-45deg)">03:58</div>
<div class="a" style="left:1080.8px;top:272.4px;width:18.0px;height:57.6px;background:#a5cde4;border:1px solid #93c0db;border-top:2px solid #8dbad6;box-sizing:border-box"></div>
<div class="lbl" style="left:1057.8px;top:335.0px;width:32px;text-align:right;font-size:10.3px;color:#444;transform-origin:100% 0;transform:rotate(-45deg)">03:59</div>
<div class="a" style="left:1107.4px;top:272.4px;width:18.0px;height:57.6px;background:#a5cde4;border:1px solid #93c0db;border-top:2px solid #8dbad6;box-sizing:border-box"></div>
<div class="lbl" style="left:1084.4px;top:335.0px;width:32px;text-align:right;font-size:10.3px;color:#444;transform-origin:100% 0;transform:rotate(-45deg)"><b style='color:#333'>04:00</b></div>
<div class="a" style="left:1134.1px;top:272.4px;width:18.0px;height:57.6px;background:#a5cde4;border:1px solid #93c0db;border-top:2px solid #8dbad6;box-sizing:border-box"></div>
<div class="lbl" style="left:1111.1px;top:335.0px;width:32px;text-align:right;font-size:10.3px;color:#444;transform-origin:100% 0;transform:rotate(-45deg)">04:01</div>
<div class="a" style="left:1160.8px;top:272.4px;width:18.0px;height:57.6px;background:#a5cde4;border:1px solid #93c0db;border-top:2px solid #8dbad6;box-sizing:border-box"></div>
<div class="lbl" style="left:1137.8px;top:335.0px;width:32px;text-align:right;font-size:10.3px;color:#444;transform-origin:100% 0;transform:rotate(-45deg)">04:02</div>
<div class="a" style="left:1187.5px;top:245.1px;width:18.0px;height:84.9px;background:#a5cde4;border:1px solid #93c0db;border-top:2px solid #8dbad6;box-sizing:border-box"></div>
<div class="lbl" style="left:1164.5px;top:335.0px;width:32px;text-align:right;font-size:10.3px;color:#444;transform-origin:100% 0;transform:rotate(-45deg)">04:03</div>
<div class="a" style="left:1214.1px;top:271.3px;width:18.0px;height:58.7px;background:#a5cde4;border:1px solid #93c0db;border-top:2px solid #8dbad6;box-sizing:border-box"></div>
<div class="lbl" style="left:1191.1px;top:335.0px;width:32px;text-align:right;font-size:10.3px;color:#444;transform-origin:100% 0;transform:rotate(-45deg)">04:04</div>
<div class="a" style="left:1240.8px;top:273.5px;width:18.0px;height:56.5px;background:#a5cde4;border:1px solid #93c0db;border-top:2px solid #8dbad6;box-sizing:border-box"></div>
<div class="lbl" style="left:1217.8px;top:335.0px;width:32px;text-align:right;font-size:10.3px;color:#444;transform-origin:100% 0;transform:rotate(-45deg)">04:05</div>
<div class="a" style="left:1267.5px;top:272.4px;width:18.0px;height:57.6px;background:#a5cde4;border:1px solid #93c0db;border-top:2px solid #8dbad6;box-sizing:border-box"></div>
<div class="lbl" style="left:1244.5px;top:335.0px;width:32px;text-align:right;font-size:10.3px;color:#444;transform-origin:100% 0;transform:rotate(-45deg)">04:06</div>
<div class="a" style="left:1294.2px;top:270.7px;width:18.0px;height:59.3px;background:#a5cde4;border:1px solid #93c0db;border-top:2px solid #8dbad6;box-sizing:border-box"></div>
<div class="lbl" style="left:1271.2px;top:335.0px;width:32px;text-align:right;font-size:10.3px;color:#444;transform-origin:100% 0;transform:rotate(-45deg)">04:07</div>
<div class="a" style="left:1320.8px;top:272.4px;width:18.0px;height:57.6px;background:#a5cde4;border:1px solid #93c0db;border-top:2px solid #8dbad6;box-sizing:border-box"></div>
<div class="lbl" style="left:1297.8px;top:335.0px;width:32px;text-align:right;font-size:10.3px;color:#444;transform-origin:100% 0;transform:rotate(-45deg)">04:08</div>
<div class="a" style="left:1347.5px;top:273.5px;width:18.0px;height:56.5px;background:#a5cde4;border:1px solid #93c0db;border-top:2px solid #8dbad6;box-sizing:border-box"></div>
<div class="lbl" style="left:1324.5px;top:335.0px;width:32px;text-align:right;font-size:10.3px;color:#444;transform-origin:100% 0;transform:rotate(-45deg)">04:09</div>
<div class="a" style="left:1374.2px;top:270.7px;width:18.0px;height:59.3px;background:#a5cde4;border:1px solid #93c0db;border-top:2px solid #8dbad6;box-sizing:border-box"></div>
<div class="lbl" style="left:1351.2px;top:335.0px;width:32px;text-align:right;font-size:10.3px;color:#444;transform-origin:100% 0;transform:rotate(-45deg)">04:10</div>
<div class="a" style="left:1400.9px;top:272.4px;width:18.0px;height:57.6px;background:#a5cde4;border:1px solid #93c0db;border-top:2px solid #8dbad6;box-sizing:border-box"></div>
<div class="lbl" style="left:1377.9px;top:335.0px;width:32px;text-align:right;font-size:10.3px;color:#444;transform-origin:100% 0;transform:rotate(-45deg)">04:11</div>
<div class="a" style="left:1427.5px;top:272.9px;width:18.0px;height:57.1px;background:#a5cde4;border:1px solid #93c0db;border-top:2px solid #8dbad6;box-sizing:border-box"></div>
<div class="lbl" style="left:1404.5px;top:335.0px;width:32px;text-align:right;font-size:10.3px;color:#444;transform-origin:100% 0;transform:rotate(-45deg)">04:12</div>
<div class="a" style="left:1454.2px;top:270.7px;width:18.0px;height:59.3px;background:#a5cde4;border:1px solid #93c0db;border-top:2px solid #8dbad6;box-sizing:border-box"></div>
<div class="lbl" style="left:1431.2px;top:335.0px;width:32px;text-align:right;font-size:10.3px;color:#444;transform-origin:100% 0;transform:rotate(-45deg)">04:13</div>
<div class="a" style="left:1480.9px;top:272.4px;width:18.0px;height:57.6px;background:#a5cde4;border:1px solid #93c0db;border-top:2px solid #8dbad6;box-sizing:border-box"></div>
<div class="lbl" style="left:1457.9px;top:335.0px;width:32px;text-align:right;font-size:10.3px;color:#444;transform-origin:100% 0;transform:rotate(-45deg)">04:14</div>
<div class="a" style="left:1507.5px;top:271.8px;width:18.0px;height:58.2px;background:#a5cde4;border:1px solid #93c0db;border-top:2px solid #8dbad6;box-sizing:border-box"></div>
<div class="lbl" style="left:1484.5px;top:335.0px;width:32px;text-align:right;font-size:10.3px;color:#444;transform-origin:100% 0;transform:rotate(-45deg)">04:15</div>
<div class="a" style="left:1534.2px;top:270.2px;width:18.0px;height:59.8px;background:#a5cde4;border:1px solid #93c0db;border-top:2px solid #8dbad6;box-sizing:border-box"></div>
<div class="lbl" style="left:1511.2px;top:335.0px;width:32px;text-align:right;font-size:10.3px;color:#444;transform-origin:100% 0;transform:rotate(-45deg)">04:16</div>
<div class="a" style="left:1560.9px;top:272.9px;width:18.0px;height:57.1px;background:#a5cde4;border:1px solid #93c0db;border-top:2px solid #8dbad6;box-sizing:border-box"></div>
<div class="lbl" style="left:1537.9px;top:335.0px;width:32px;text-align:right;font-size:10.3px;color:#444;transform-origin:100% 0;transform:rotate(-45deg)">04:17</div>
<div class="a" style="left:1587.6px;top:271.8px;width:18.0px;height:58.2px;background:#a5cde4;border:1px solid #93c0db;border-top:2px solid #8dbad6;box-sizing:border-box"></div>
<div class="lbl" style="left:1564.6px;top:335.0px;width:32px;text-align:right;font-size:10.3px;color:#444;transform-origin:100% 0;transform:rotate(-45deg)">04:18</div>
<div class="a" style="left:1614.2px;top:270.7px;width:18.0px;height:59.3px;background:#a5cde4;border:1px solid #93c0db;border-top:2px solid #8dbad6;box-sizing:border-box"></div>
<div class="lbl" style="left:1591.2px;top:335.0px;width:32px;text-align:right;font-size:10.3px;color:#444;transform-origin:100% 0;transform:rotate(-45deg)">04:19</div>
<div class="a" style="left:1640.9px;top:272.4px;width:18.0px;height:57.6px;background:#a5cde4;border:1px solid #93c0db;border-top:2px solid #8dbad6;box-sizing:border-box"></div>
<div class="lbl" style="left:1617.9px;top:335.0px;width:32px;text-align:right;font-size:10.3px;color:#444;transform-origin:100% 0;transform:rotate(-45deg)">04:20</div>
<div class="a" style="left:1667.6px;top:271.8px;width:18.0px;height:58.2px;background:#a5cde4;border:1px solid #93c0db;border-top:2px solid #8dbad6;box-sizing:border-box"></div>
<div class="lbl" style="left:1644.6px;top:335.0px;width:32px;text-align:right;font-size:10.3px;color:#444;transform-origin:100% 0;transform:rotate(-45deg)">04:21</div>
<div class="a" style="left:1694.3px;top:270.7px;width:18.0px;height:59.3px;background:#a5cde4;border:1px solid #93c0db;border-top:2px solid #8dbad6;box-sizing:border-box"></div>
<div class="lbl" style="left:1671.3px;top:335.0px;width:32px;text-align:right;font-size:10.3px;color:#444;transform-origin:100% 0;transform:rotate(-45deg)">04:22</div>
<div class="a" style="left:1721.0px;top:271.8px;width:18.0px;height:58.2px;background:#a5cde4;border:1px solid #93c0db;border-top:2px solid #8dbad6;box-sizing:border-box"></div>
<div class="lbl" style="left:1698.0px;top:335.0px;width:32px;text-align:right;font-size:10.3px;color:#444;transform-origin:100% 0;transform:rotate(-45deg)">04:23</div>
<div class="a" style="left:1747.6px;top:271.8px;width:18.0px;height:58.2px;background:#a5cde4;border:1px solid #93c0db;border-top:2px solid #8dbad6;box-sizing:border-box"></div>
<div class="lbl" style="left:1724.6px;top:335.0px;width:32px;text-align:right;font-size:10.3px;color:#444;transform-origin:100% 0;transform:rotate(-45deg)">04:24</div>
<div class="a" style="left:1774.3px;top:270.2px;width:18.0px;height:59.8px;background:#a5cde4;border:1px solid #93c0db;border-top:2px solid #8dbad6;box-sizing:border-box"></div>
<div class="lbl" style="left:1751.3px;top:335.0px;width:32px;text-align:right;font-size:10.3px;color:#444;transform-origin:100% 0;transform:rotate(-45deg)">04:25</div>
<div class="a" style="left:1801.0px;top:272.4px;width:18.0px;height:57.6px;background:#a5cde4;border:1px solid #93c0db;border-top:2px solid #8dbad6;box-sizing:border-box"></div>
<div class="lbl" style="left:1778.0px;top:335.0px;width:32px;text-align:right;font-size:10.3px;color:#444;transform-origin:100% 0;transform:rotate(-45deg)">04:26</div>
<div class="a" style="left:1827.7px;top:272.4px;width:18.0px;height:57.6px;background:#a5cde4;border:1px solid #93c0db;border-top:2px solid #8dbad6;box-sizing:border-box"></div>
<div class="lbl" style="left:1804.7px;top:335.0px;width:32px;text-align:right;font-size:10.3px;color:#444;transform-origin:100% 0;transform:rotate(-45deg)">04:27</div>
<div class="a" style="left:1854.3px;top:270.2px;width:18.0px;height:59.8px;background:#a5cde4;border:1px solid #93c0db;border-top:2px solid #8dbad6;box-sizing:border-box"></div>
<div class="lbl" style="left:1831.3px;top:335.0px;width:32px;text-align:right;font-size:10.3px;color:#444;transform-origin:100% 0;transform:rotate(-45deg)">04:28</div>
<div class="a" style="left:1881.0px;top:311.8px;width:9.0px;height:18.2px;background:#a5cde4;border:1px solid #93c0db;border-top:2px solid #8dbad6;box-sizing:border-box"></div>
<div class="lbl" style="left:1858.0px;top:335.0px;width:32px;text-align:right;font-size:10.3px;color:#444;transform-origin:100% 0;transform:rotate(-45deg)">04:29</div>
<div class="a" style="left:289.5px;top:330.0px;width:1600.5px;height:1px;background:rgba(0,0,0,0.085)"></div>
<div class="lbl" style="left:249.5px;width:36px;text-align:right;top:323.0px;font-size:9.4px;color:#444">0</div>
<div class="a" style="left:289.5px;top:316.2px;width:1600.5px;height:1px;background:rgba(0,0,0,0.085)"></div>
<div class="lbl" style="left:249.5px;width:36px;text-align:right;top:309.2px;font-size:9.4px;color:#444">50</div>
<div class="a" style="left:289.5px;top:302.4px;width:1600.5px;height:1px;background:rgba(0,0,0,0.085)"></div>
<div class="lbl" style="left:249.5px;width:36px;text-align:right;top:295.4px;font-size:9.4px;color:#444">100</div>
<div class="a" style="left:289.5px;top:288.6px;width:1600.5px;height:1px;background:rgba(0,0,0,0.085)"></div>
<div class="lbl" style="left:249.5px;width:36px;text-align:right;top:281.6px;font-size:9.4px;color:#444">150</div>
<div class="a" style="left:289.5px;top:274.9px;width:1600.5px;height:1px;background:rgba(0,0,0,0.085)"></div>
<div class="lbl" style="left:249.5px;width:36px;text-align:right;top:267.9px;font-size:9.4px;color:#444">200</div>
<div class="a" style="left:289.5px;top:261.1px;width:1600.5px;height:1px;background:rgba(0,0,0,0.085)"></div>
<div class="lbl" style="left:249.5px;width:36px;text-align:right;top:254.1px;font-size:9.4px;color:#444">250</div>
<div class="a" style="left:289.5px;top:247.3px;width:1600.5px;height:1px;background:rgba(0,0,0,0.085)"></div>
<div class="lbl" style="left:249.5px;width:36px;text-align:right;top:240.3px;font-size:9.4px;color:#444">300</div>
<div class="a" style="left:289.5px;top:233.5px;width:1600.5px;height:1px;background:rgba(0,0,0,0.085)"></div>
<div class="lbl" style="left:249.5px;width:36px;text-align:right;top:226.5px;font-size:9.4px;color:#444">350</div>
<div class="a" style="left:302.8px;top:233.5px;width:1px;height:96.5px;background:rgba(0,0,0,0.085)"></div>
<div class="a" style="left:329.5px;top:233.5px;width:1px;height:96.5px;background:rgba(0,0,0,0.085)"></div>
<div class="a" style="left:356.2px;top:233.5px;width:1px;height:96.5px;background:rgba(0,0,0,0.085)"></div>
<div class="a" style="left:382.9px;top:233.5px;width:1px;height:96.5px;background:rgba(0,0,0,0.085)"></div>
<div class="a" style="left:409.5px;top:233.5px;width:1px;height:96.5px;background:rgba(0,0,0,0.085)"></div>
<div class="a" style="left:436.2px;top:233.5px;width:1px;height:96.5px;background:rgba(0,0,0,0.085)"></div>
<div class="a" style="left:462.9px;top:233.5px;width:1px;height:96.5px;background:rgba(0,0,0,0.085)"></div>
<div class="a" style="left:489.6px;top:233.5px;width:1px;height:96.5px;background:rgba(0,0,0,0.085)"></div>
<div class="a" style="left:516.2px;top:233.5px;width:1px;height:96.5px;background:rgba(0,0,0,0.085)"></div>
<div class="a" style="left:542.9px;top:233.5px;width:1px;height:96.5px;background:rgba(0,0,0,0.085)"></div>
<div class="a" style="left:569.6px;top:233.5px;width:1px;height:96.5px;background:rgba(0,0,0,0.085)"></div>
<div class="a" style="left:596.3px;top:233.5px;width:1px;height:96.5px;background:rgba(0,0,0,0.085)"></div>
<div class="a" style="left:622.9px;top:233.5px;width:1px;height:96.5px;background:rgba(0,0,0,0.085)"></div>
<div class="a" style="left:649.6px;top:233.5px;width:1px;height:96.5px;background:rgba(0,0,0,0.085)"></div>
<div class="a" style="left:676.3px;top:233.5px;width:1px;height:96.5px;background:rgba(0,0,0,0.085)"></div>
<div class="a" style="left:703.0px;top:233.5px;width:1px;height:96.5px;background:rgba(0,0,0,0.085)"></div>
<div class="a" style="left:729.6px;top:233.5px;width:1px;height:96.5px;background:rgba(0,0,0,0.085)"></div>
<div class="a" style="left:756.3px;top:233.5px;width:1px;height:96.5px;background:rgba(0,0,0,0.085)"></div>
<div class="a" style="left:783.0px;top:233.5px;width:1px;height:96.5px;background:rgba(0,0,0,0.085)"></div>
<div class="a" style="left:809.7px;top:233.5px;width:1px;height:96.5px;background:rgba(0,0,0,0.085)"></div>
<div class="a" style="left:836.3px;top:233.5px;width:1px;height:96.5px;background:rgba(0,0,0,0.085)"></div>
<div class="a" style="left:863.0px;top:233.5px;width:1px;height:96.5px;background:rgba(0,0,0,0.085)"></div>
<div class="a" style="left:889.7px;top:233.5px;width:1px;height:96.5px;background:rgba(0,0,0,0.085)"></div>
<div class="a" style="left:916.4px;top:233.5px;width:1px;height:96.5px;background:rgba(0,0,0,0.085)"></div>
<div class="a" style="left:943.0px;top:233.5px;width:1px;height:96.5px;background:rgba(0,0,0,0.085)"></div>
<div class="a" style="left:969.7px;top:233.5px;width:1px;height:96.5px;background:rgba(0,0,0,0.085)"></div>
<div class="a" style="left:996.4px;top:233.5px;width:1px;height:96.5px;background:rgba(0,0,0,0.085)"></div>
<div class="a" style="left:1023.1px;top:233.5px;width:1px;height:96.5px;background:rgba(0,0,0,0.085)"></div>
<div class="a" style="left:1049.7px;top:233.5px;width:1px;height:96.5px;background:rgba(0,0,0,0.085)"></div>
<div class="a" style="left:1076.4px;top:233.5px;width:1px;height:96.5px;background:rgba(0,0,0,0.085)"></div>
<div class="a" style="left:1103.1px;top:233.5px;width:1px;height:96.5px;background:rgba(0,0,0,0.085)"></div>
<div class="a" style="left:1129.8px;top:233.5px;width:1px;height:96.5px;background:rgba(0,0,0,0.085)"></div>
<div class="a" style="left:1156.4px;top:233.5px;width:1px;height:96.5px;background:rgba(0,0,0,0.085)"></div>
<div class="a" style="left:1183.1px;top:233.5px;width:1px;height:96.5px;background:rgba(0,0,0,0.085)"></div>
<div class="a" style="left:1209.8px;top:233.5px;width:1px;height:96.5px;background:rgba(0,0,0,0.085)"></div>
<div class="a" style="left:1236.5px;top:233.5px;width:1px;height:96.5px;background:rgba(0,0,0,0.085)"></div>
<div class="a" style="left:1263.1px;top:233.5px;width:1px;height:96.5px;background:rgba(0,0,0,0.085)"></div>
<div class="a" style="left:1289.8px;top:233.5px;width:1px;height:96.5px;background:rgba(0,0,0,0.085)"></div>
<div class="a" style="left:1316.5px;top:233.5px;width:1px;height:96.5px;background:rgba(0,0,0,0.085)"></div>
<div class="a" style="left:1343.2px;top:233.5px;width:1px;height:96.5px;background:rgba(0,0,0,0.085)"></div>
<div class="a" style="left:1369.8px;top:233.5px;width:1px;height:96.5px;background:rgba(0,0,0,0.085)"></div>
<div class="a" style="left:1396.5px;top:233.5px;width:1px;height:96.5px;background:rgba(0,0,0,0.085)"></div>
<div class="a" style="left:1423.2px;top:233.5px;width:1px;height:96.5px;background:rgba(0,0,0,0.085)"></div>
<div class="a" style="left:1449.9px;top:233.5px;width:1px;height:96.5px;background:rgba(0,0,0,0.085)"></div>
<div class="a" style="left:1476.5px;top:233.5px;width:1px;height:96.5px;background:rgba(0,0,0,0.085)"></div>
<div class="a" style="left:1503.2px;top:233.5px;width:1px;height:96.5px;background:rgba(0,0,0,0.085)"></div>
<div class="a" style="left:1529.9px;top:233.5px;width:1px;height:96.5px;background:rgba(0,0,0,0.085)"></div>
<div class="a" style="left:1556.6px;top:233.5px;width:1px;height:96.5px;background:rgba(0,0,0,0.085)"></div>
<div class="a" style="left:1583.2px;top:233.5px;width:1px;height:96.5px;background:rgba(0,0,0,0.085)"></div>
<div class="a" style="left:1609.9px;top:233.5px;width:1px;height:96.5px;background:rgba(0,0,0,0.085)"></div>
<div class="a" style="left:1636.6px;top:233.5px;width:1px;height:96.5px;background:rgba(0,0,0,0.085)"></div>
<div class="a" style="left:1663.3px;top:233.5px;width:1px;height:96.5px;background:rgba(0,0,0,0.085)"></div>
<div class="a" style="left:1689.9px;top:233.5px;width:1px;height:96.5px;background:rgba(0,0,0,0.085)"></div>
<div class="a" style="left:1716.6px;top:233.5px;width:1px;height:96.5px;background:rgba(0,0,0,0.085)"></div>
<div class="a" style="left:1743.3px;top:233.5px;width:1px;height:96.5px;background:rgba(0,0,0,0.085)"></div>
<div class="a" style="left:1770.0px;top:233.5px;width:1px;height:96.5px;background:rgba(0,0,0,0.085)"></div>
<div class="a" style="left:1796.6px;top:233.5px;width:1px;height:96.5px;background:rgba(0,0,0,0.085)"></div>
<div class="a" style="left:1823.3px;top:233.5px;width:1px;height:96.5px;background:rgba(0,0,0,0.085)"></div>
<div class="a" style="left:1850.0px;top:233.5px;width:1px;height:96.5px;background:rgba(0,0,0,0.085)"></div>
<div class="a" style="left:1876.7px;top:233.5px;width:1px;height:96.5px;background:rgba(0,0,0,0.085)"></div>
<div class="a" style="left:308px;top:366px;width:9px;height:9px;background:#a2cce3"></div>
<div class="lbl ser" style="left:322px;top:365px;font-size:11px;color:#555">Logs</div>
<svg class="a" style="left:1901px;top:375px" width="8" height="8" viewBox="0 0 8 8"><path d="M7 2 L7 7 L2 7Z" fill="#666"/></svg>
<div class="panel" style="left:256px;top:396px;width:407px;height:250px"></div>
<div class="ptitle" style="left:272.5px;top:409px">Top Databases</div>
<div class="a" style="left:332.0px;top:454px;width:1px;height:168px;background:#d0d0d0"></div>
<div class="lbl" style="left:312.0px;width:40px;text-align:center;top:623px;font-size:10.5px;color:#666">0</div>
<div class="a" style="left:376.3px;top:454px;width:1px;height:168px;background:#e6e6e6"></div>
<div class="lbl" style="left:356.3px;width:40px;text-align:center;top:623px;font-size:10.5px;color:#666">2k</div>
<div class="a" style="left:420.6px;top:454px;width:1px;height:168px;background:#e6e6e6"></div>
<div class="lbl" style="left:400.6px;width:40px;text-align:center;top:623px;font-size:10.5px;color:#666">4k</div>
<div class="a" style="left:464.9px;top:454px;width:1px;height:168px;background:#e6e6e6"></div>
<div class="lbl" style="left:444.9px;width:40px;text-align:center;top:623px;font-size:10.5px;color:#666">6k</div>
<div class="a" style="left:509.1px;top:454px;width:1px;height:168px;background:#e6e6e6"></div>
<div class="lbl" style="left:489.1px;width:40px;text-align:center;top:623px;font-size:10.5px;color:#666">8k</div>
<div class="a" style="left:553.4px;top:454px;width:1px;height:168px;background:#e6e6e6"></div>
<div class="lbl" style="left:533.4px;width:40px;text-align:center;top:623px;font-size:10.5px;color:#666">10k</div>
<div class="a" style="left:597.7px;top:454px;width:1px;height:168px;background:#e6e6e6"></div>
<div class="lbl" style="left:577.7px;width:40px;text-align:center;top:623px;font-size:10.5px;color:#666">12k</div>
<div class="a" style="left:642.0px;top:454px;width:1px;height:168px;background:#e6e6e6"></div>
<div class="lbl" style="left:622.0px;width:40px;text-align:center;top:623px;font-size:10.5px;color:#666">14k</div>
<div class="a" style="left:332px;top:618px;width:310px;height:1px;background:#e0e0e0"></div>
<div class="a" style="left:333px;top:467px;width:275.6px;height:58px;background:#b3e61e"></div>
<div class="lbl" style="left:224px;width:104px;text-align:right;top:490.0px;font-size:10.5px;color:#666">sematext_s...</div>
<div class="a" style="left:333px;top:549px;width:9.4px;height:59px;background:#b3e61e"></div>
<div class="lbl" style="left:224px;width:104px;text-align:right;top:572.5px;font-size:10.5px;color:#666">users</div>
<svg class="a" style="left:653px;top:635px" width="8" height="8" viewBox="0 0 8 8"><path d="M7 2 L7 7 L2 7Z" fill="#666"/></svg>
<div class="panel" style="left:672px;top:396px;width:372px;height:250px"></div>
<div class="ptitle" style="left:688.5px;top:409px">Top Users</div>
<div class="a" style="left:729.0px;top:454px;width:1px;height:168px;background:#d0d0d0"></div>
<div class="lbl" style="left:709.0px;width:40px;text-align:center;top:623px;font-size:10.5px;color:#666">0</div>
<div class="a" style="left:777.8px;top:454px;width:1px;height:168px;background:#e6e6e6"></div>
<div class="lbl" style="left:757.8px;width:40px;text-align:center;top:623px;font-size:10.5px;color:#666">2k</div>
<div class="a" style="left:826.7px;top:454px;width:1px;height:168px;background:#e6e6e6"></div>
<div class="lbl" style="left:806.7px;width:40px;text-align:center;top:623px;font-size:10.5px;color:#666">4k</div>
<div class="a" style="left:875.5px;top:454px;width:1px;height:168px;background:#e6e6e6"></div>
<div class="lbl" style="left:855.5px;width:40px;text-align:center;top:623px;font-size:10.5px;color:#666">6k</div>
<div class="a" style="left:924.3px;top:454px;width:1px;height:168px;background:#e6e6e6"></div>
<div class="lbl" style="left:904.3px;width:40px;text-align:center;top:623px;font-size:10.5px;color:#666">8k</div>
<div class="a" style="left:973.2px;top:454px;width:1px;height:168px;background:#e6e6e6"></div>
<div class="lbl" style="left:953.2px;width:40px;text-align:center;top:623px;font-size:10.5px;color:#666">10k</div>
<div class="a" style="left:1022.0px;top:454px;width:1px;height:168px;background:#e6e6e6"></div>
<div class="lbl" style="left:1002.0px;width:40px;text-align:center;top:623px;font-size:10.5px;color:#666">12k</div>
<div class="a" style="left:729px;top:618px;width:293px;height:1px;background:#e0e0e0"></div>
<div class="a" style="left:730px;top:462px;width:263.7px;height:28px;background:#e56bc9"></div>
<div class="lbl" style="left:621px;width:104px;text-align:right;top:470.0px;font-size:10.5px;color:#666">sematext</div>
<div class="a" style="left:730px;top:503px;width:33.7px;height:28px;background:#e56bc9"></div>
<div class="lbl" style="left:621px;width:104px;text-align:right;top:511.0px;font-size:10.5px;color:#666">layer12</div>
<div class="a" style="left:730px;top:543px;width:10.8px;height:29px;background:#e56bc9"></div>
<div class="lbl" style="left:621px;width:104px;text-align:right;top:551.5px;font-size:10.5px;color:#666">test</div>
<div class="a" style="left:730px;top:584px;width:6.9px;height:29px;background:#e56bc9"></div>
<div class="lbl" style="left:621px;width:104px;text-align:right;top:592.5px;font-size:10.5px;color:#666">wonder</div>
<svg class="a" style="left:1034px;top:635px" width="8" height="8" viewBox="0 0 8 8"><path d="M7 2 L7 7 L2 7Z" fill="#666"/></svg>
<div class="panel" style="left:1054px;top:396px;width:405px;height:250px"></div>
<div class="ptitle" style="left:1070.5px;top:409px">Top Hosts</div>
<div class="a" style="left:1102.0px;top:454px;width:1px;height:168px;background:#d0d0d0"></div>
<div class="lbl" style="left:1082.0px;width:40px;text-align:center;top:623px;font-size:10.5px;color:#666">0</div>
<div class="a" style="left:1150.1px;top:454px;width:1px;height:168px;background:#e6e6e6"></div>
<div class="lbl" style="left:1130.1px;width:40px;text-align:center;top:623px;font-size:10.5px;color:#666">2k</div>
<div class="a" style="left:1198.3px;top:454px;width:1px;height:168px;background:#e6e6e6"></div>
<div class="lbl" style="left:1178.3px;width:40px;text-align:center;top:623px;font-size:10.5px;color:#666">4k</div>
<div class="a" style="left:1246.4px;top:454px;width:1px;height:168px;background:#e6e6e6"></div>
<div class="lbl" style="left:1226.4px;width:40px;text-align:center;top:623px;font-size:10.5px;color:#666">6k</div>
<div class="a" style="left:1294.6px;top:454px;width:1px;height:168px;background:#e6e6e6"></div>
<div class="lbl" style="left:1274.6px;width:40px;text-align:center;top:623px;font-size:10.5px;color:#666">8k</div>
<div class="a" style="left:1342.7px;top:454px;width:1px;height:168px;background:#e6e6e6"></div>
<div class="lbl" style="left:1322.7px;width:40px;text-align:center;top:623px;font-size:10.5px;color:#666">10k</div>
<div class="a" style="left:1390.9px;top:454px;width:1px;height:168px;background:#e6e6e6"></div>
<div class="lbl" style="left:1370.9px;width:40px;text-align:center;top:623px;font-size:10.5px;color:#666">12k</div>
<div class="a" style="left:1439.0px;top:454px;width:1px;height:168px;background:#e6e6e6"></div>
<div class="lbl" style="left:1419.0px;width:40px;text-align:center;top:623px;font-size:10.5px;color:#666">14k</div>
<div class="a" style="left:1102px;top:618px;width:337px;height:1px;background:#e0e0e0"></div>
<div class="a" style="left:1103px;top:479px;width:312.9px;height:118px;background:#47d6e1"></div>
<div class="lbl" style="left:994px;width:104px;text-align:right;top:532.0px;font-size:10.5px;color:#666">training</div>
<svg class="a" style="left:1449px;top:635px" width="8" height="8" viewBox="0 0 8 8"><path d="M7 2 L7 7 L2 7Z" fill="#666"/></svg>
<div class="panel" style="left:1470px;top:396px;width:440px;height:250px"></div>
<div class="ptitle" style="left:1486.5px;top:409px">Severity Breakdown</div>
<div class="a" style="left:1510.0px;top:454px;width:1px;height:168px;background:#d0d0d0"></div>
<div class="lbl" style="left:1490.0px;width:40px;text-align:center;top:623px;font-size:10.5px;color:#666">0</div>
<div class="a" style="left:1573.3px;top:454px;width:1px;height:168px;background:#e6e6e6"></div>
<div class="lbl" style="left:1553.3px;width:40px;text-align:center;top:623px;font-size:10.5px;color:#666">2k</div>
<div class="a" style="left:1636.7px;top:454px;width:1px;height:168px;background:#e6e6e6"></div>
<div class="lbl" style="left:1616.7px;width:40px;text-align:center;top:623px;font-size:10.5px;color:#666">4k</div>
<div class="a" style="left:1700.0px;top:454px;width:1px;height:168px;background:#e6e6e6"></div>
<div class="lbl" style="left:1680.0px;width:40px;text-align:center;top:623px;font-size:10.5px;color:#666">6k</div>
<div class="a" style="left:1763.3px;top:454px;width:1px;height:168px;background:#e6e6e6"></div>
<div class="lbl" style="left:1743.3px;width:40px;text-align:center;top:623px;font-size:10.5px;color:#666">8k</div>
<div class="a" style="left:1826.7px;top:454px;width:1px;height:168px;background:#e6e6e6"></div>
<div class="lbl" style="left:1806.7px;width:40px;text-align:center;top:623px;font-size:10.5px;color:#666">10k</div>
<div class="a" style="left:1890.0px;top:454px;width:1px;height:168px;background:#e6e6e6"></div>
<div class="lbl" style="left:1870.0px;width:40px;text-align:center;top:623px;font-size:10.5px;color:#666">12k</div>
<div class="a" style="left:1510px;top:618px;width:380px;height:1px;background:#e0e0e0"></div>
<div class="a" style="left:1511px;top:463px;width:340.8px;height:39px;background:#b3e61e"></div>
<div class="lbl" style="left:1402px;width:104px;text-align:right;top:476.5px;font-size:10.5px;color:#666">log</div>
<div class="a" style="left:1511px;top:517px;width:33.8px;height:39px;background:#b3e61e"></div>
<div class="lbl" style="left:1402px;width:104px;text-align:right;top:530.5px;font-size:10.5px;color:#666">detail</div>
<div class="a" style="left:1511px;top:573px;width:33.8px;height:38px;background:#b3e61e"></div>
<div class="lbl" style="left:1402px;width:104px;text-align:right;top:586.0px;font-size:10.5px;color:#666">fatal</div>
<svg class="a" style="left:1900px;top:635px" width="8" height="8" viewBox="0 0 8 8"><path d="M7 2 L7 7 L2 7Z" fill="#666"/></svg>
<div class="panel" style="left:256px;top:655px;width:1654px;height:397px;overflow:hidden;border-bottom:none"></div>
<div class="ptitle" style="left:274px;top:668px">Log Events Without Duration</div>
<div class="chip" style="left:295px;top:697px;width:69px;color:#50648a">@timestamp</div>
<div class="chip" style="left:407.5px;top:697px;width:52.5px;color:#50648a">database</div>
<div class="chip" style="left:543px;top:697px;width:40px;color:#50648a">os.host</div>
<div class="chip" style="left:778px;top:697px;width:52px;color:#50648a">message</div>
<div class="chip" style="left:1361px;top:697px;width:84px;color:#50648a">[object Object]</div>
<div class="sep" style="left:525px;top:697px;height:18px"></div>
<div class="sep" style="left:764px;top:697px;height:18px"></div>
<div class="sep" style="left:1344px;top:697px;height:18px"></div>
<div class="a" style="left:257px;top:718px;width:1652px;height:1px;background:#eceef1"></div>
<div class="a mono" style="left:296px;top:724px;font-size:12px;line-height:16px;color:#444">04:29:12</div>
<div class="a mono" style="left:296px;top:740px;font-size:12px;line-height:16px;color:#888">27s ago</div>
<div class="a mono" style="left:410px;top:724px;font-size:12px;line-height:16px;color:#444">sematext_solr_trainl</div>
<div class="a mono" style="left:544px;top:724px;font-size:12px;line-height:16px;color:#444">training</div>
<div class="a mono" style="left:781px;top:724px;font-size:12px;line-height:16.5px;color:#555;white-space:nowrap">Role "layer12" does not exist. Connection matched pg_hba.conf line 96: "host all all<br>127.0.0.1/32 md5"</div>
<svg class="a" style="left:268px;top:729px" width="12" height="14" viewBox="0 0 12 14"><path d="M1.5 4.5 L6 1 L10.5 4.5 M1.5 9 L6 12.5 L10.5 9" fill="none" stroke="#8a8a8a" stroke-width="1.4"/></svg>
<svg class="a" style="left:272px;top:752px" width="5" height="17" viewBox="0 0 5 17"><circle cx="2.5" cy="2.5" r="2" fill="#6f6f6f"/><circle cx="2.5" cy="8.5" r="2" fill="#a5a5a5"/><circle cx="2.5" cy="14.5" r="2" fill="#6f6f6f"/></svg>
<div class="a" style="left:257px;top:797px;width:1652px;height:1px;background:#eceef1"></div>
<div class="a mono" style="left:296px;top:803px;font-size:12px;line-height:16px;color:#444">04:29:12</div>
<div class="a mono" style="left:296px;top:819px;font-size:12px;line-height:16px;color:#888">27s ago</div>
<div class="a mono" style="left:410px;top:803px;font-size:12px;line-height:16px;color:#444">sematext_solr_trainl</div>
<div class="a mono" style="left:544px;top:803px;font-size:12px;line-height:16px;color:#444">training</div>
<div class="a mono" style="left:781px;top:803px;font-size:12px;line-height:16.5px;color:#555;white-space:nowrap">Role "layer12" does not exist. Connection matched pg_hba.conf line 96: "host all all<br>127.0.0.1/32 md5"</div>
<svg class="a" style="left:268px;top:808px" width="12" height="14" viewBox="0 0 12 14"><path d="M1.5 4.5 L6 1 L10.5 4.5 M1.5 9 L6 12.5 L10.5 9" fill="none" stroke="#8a8a8a" stroke-width="1.4"/></svg>
<svg class="a" style="left:272px;top:831px" width="5" height="17" viewBox="0 0 5 17"><circle cx="2.5" cy="2.5" r="2" fill="#6f6f6f"/><circle cx="2.5" cy="8.5" r="2" fill="#a5a5a5"/><circle cx="2.5" cy="14.5" r="2" fill="#6f6f6f"/></svg>
<div class="a" style="left:257px;top:876px;width:1652px;height:1px;background:#eceef1"></div>
<div class="a mono" style="left:296px;top:882px;font-size:12px;line-height:16px;color:#444">04:29:12</div>
<div class="a mono" style="left:296px;top:898px;font-size:12px;line-height:16px;color:#888">27s ago</div>
<div class="a mono" style="left:410px;top:882px;font-size:12px;line-height:16px;color:#444">sematext_solr_trainl</div>
<div class="a mono" style="left:544px;top:882px;font-size:12px;line-height:16px;color:#444">training</div>
<div class="a mono" style="left:781px;top:882px;font-size:12px;line-height:16.5px;color:#555;white-space:nowrap">password authentication failed for user "layer12"</div>
<svg class="a" style="left:268px;top:887px" width="12" height="14" viewBox="0 0 12 14"><path d="M1.5 4.5 L6 1 L10.5 4.5 M1.5 9 L6 12.5 L10.5 9" fill="none" stroke="#8a8a8a" stroke-width="1.4"/></svg>
<svg class="a" style="left:272px;top:910px" width="5" height="17" viewBox="0 0 5 17"><circle cx="2.5" cy="2.5" r="2" fill="#6f6f6f"/><circle cx="2.5" cy="8.5" r="2" fill="#a5a5a5"/><circle cx="2.5" cy="14.5" r="2" fill="#6f6f6f"/></svg>
<div class="a" style="left:257px;top:955px;width:1652px;height:1px;background:#eceef1"></div>
<div class="a mono" style="left:296px;top:961px;font-size:12px;line-height:16px;color:#444">04:29:12</div>
<div class="a mono" style="left:296px;top:977px;font-size:12px;line-height:16px;color:#888">27s ago</div>
<div class="a mono" style="left:410px;top:961px;font-size:12px;line-height:16px;color:#444">sematext_solr_trainl</div>
<div class="a mono" style="left:544px;top:961px;font-size:12px;line-height:16px;color:#444">training</div>
<div class="a mono" style="left:781px;top:961px;font-size:12px;line-height:16.5px;color:#555;white-space:nowrap">Role "layer12" does not exist. Connection matched pg_hba.conf line 96: "host all all<br>127.0.0.1/32 md5"</div>
<svg class="a" style="left:268px;top:966px" width="12" height="14" viewBox="0 0 12 14"><path d="M1.5 4.5 L6 1 L10.5 4.5 M1.5 9 L6 12.5 L10.5 9" fill="none" stroke="#8a8a8a" stroke-width="1.4"/></svg>
<svg class="a" style="left:272px;top:989px" width="5" height="17" viewBox="0 0 5 17"><circle cx="2.5" cy="2.5" r="2" fill="#6f6f6f"/><circle cx="2.5" cy="8.5" r="2" fill="#a5a5a5"/><circle cx="2.5" cy="14.5" r="2" fill="#6f6f6f"/></svg>
<div class="a" style="left:257px;top:1034px;width:1652px;height:1px;background:#eceef1"></div>
<div class="a mono" style="left:296px;top:1040px;font-size:12px;line-height:16px;color:#444">04:29:12</div>
<div class="a mono" style="left:296px;top:1056px;font-size:12px;line-height:16px;color:#888">27s ago</div>
<div class="a mono" style="left:410px;top:1040px;font-size:12px;line-height:16px;color:#444">sematext_solr_trainl</div>
<div class="a mono" style="left:544px;top:1040px;font-size:12px;line-height:16px;color:#444">training</div>
<div class="a mono" style="left:781px;top:1040px;font-size:12px;line-height:16.5px;color:#555;white-space:nowrap">password authentication failed for user "layer12"</div>
<svg class="a" style="left:268px;top:1045px" width="12" height="14" viewBox="0 0 12 14"><path d="M1.5 4.5 L6 1 L10.5 4.5 M1.5 9 L6 12.5 L10.5 9" fill="none" stroke="#8a8a8a" stroke-width="1.4"/></svg>
<svg class="a" style="left:272px;top:1068px" width="5" height="17" viewBox="0 0 5 17"><circle cx="2.5" cy="2.5" r="2" fill="#6f6f6f"/><circle cx="2.5" cy="8.5" r="2" fill="#a5a5a5"/><circle cx="2.5" cy="14.5" r="2" fill="#6f6f6f"/></svg>
<div class="a" style="left:248px;top:1052px;width:1672px;height:30px;background:#f2f3f5"></div>
<div class="a" style="left:1918px;top:95px;width:2px;height:985px;background:#fafbfc"></div>
<svg class="a" style="left:1901px;top:1041px" width="8" height="8" viewBox="0 0 8 8"><path d="M7 2 L7 7 L2 7Z" fill="#666"/></svg>
</div></body></html>
